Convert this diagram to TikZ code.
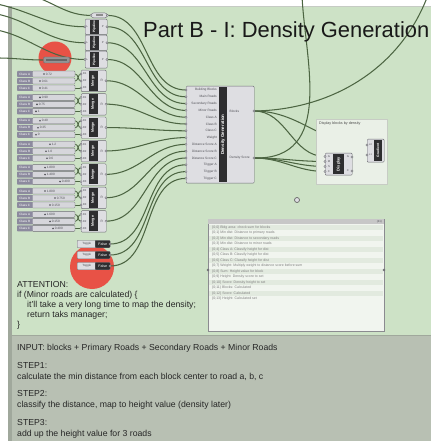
\documentclass[tikz,border=0pt]{standalone}
\usepackage{fontspec}
\setmainfont{Liberation Sans}
\usetikzlibrary{calc}
\pgfdeclarelayer{bg}
\pgfdeclarelayer{wires}
\pgfsetlayers{bg,wires,main}
\definecolor{canvas}{RGB}{205,226,198}
\definecolor{panelgrey}{RGB}{184,192,179}
\definecolor{edgegrey}{RGB}{160,168,156}
\definecolor{wirecol}{RGB}{76,101,66}
\definecolor{compfill}{RGB}{222,222,226}
\definecolor{trackfill}{RGB}{214,214,219}
\definecolor{compline}{RGB}{110,110,116}
\definecolor{stripcol}{RGB}{46,46,48}
\definecolor{slidlab}{RGB}{140,138,158}
\definecolor{redspot}{RGB}{232,82,70}
\definecolor{groupfill}{RGB}{234,240,231}
\definecolor{txtpanel}{RGB}{241,245,239}
\definecolor{txtrow}{RGB}{226,234,223}
\definecolor{labgrey}{RGB}{80,80,86}
\newcommand\tinyfont[1]{\fontsize{#1}{#1}\selectfont}
\tikzset{
 wire/.style={draw=wirecol, line width=1.05pt},
 thinwire/.style={draw=wirecol, line width=0.8pt},
 compbox/.style={draw=compline, fill=compfill, line width=0.4pt, rounded corners=1pt, inner sep=0pt, anchor=north west},
 vlab/.style={rotate=90, text=white, font=\bfseries\tinyfont{3.6}, inner sep=0pt},
 plab/.style={text=labgrey, font=\tinyfont{3.2}, inner sep=0pt},
 grip/.style={circle, fill=compfill, draw=compline, line width=0.3pt, inner sep=0pt, minimum size=2.2pt},
 sltrack/.style={draw=compline, fill=trackfill, line width=0.35pt, rounded corners=1pt, minimum width=43pt, minimum height=6pt, inner sep=0pt},
 sllab/.style={fill=slidlab, rounded corners=0.8pt, minimum width=15.5pt, minimum height=6pt, inner sep=0pt, text=white, font=\tinyfont{3.1}},
 bigtxt/.style={anchor=base west, inner sep=0pt, font=\tinyfont{8.7}, text=black!85},
 paneltxt/.style={anchor=west, inner sep=0pt, font=\tinyfont{3.5}, text=black!50},
}
% slider: name, y, label, marker x, value
\newcommand\gslider[5]{%
 \node[sltrack] (#1) at (53.5,#2) {};
 \node[sllab] at (24.75,#2) {#3};
 \fill[labgrey] (#4,#2) circle (0.9pt);
 \node[plab, anchor=west] at (#4+1.6,#2) {#5};
}
% merge: name, top
\newcommand\gmerge[2]{%
 \node[compbox, minimum width=25pt, minimum height=21.5pt] (#1) at (81,#2) {};
 \fill[stripcol] (88.5,#2+0.8) rectangle (97.5,#2+20.7);
 \node[vlab] at (93,#2+10.75) {Merge};
 \node[plab, font=\tinyfont{2.8}] at (84.7,#2+4) {D1};
 \node[plab, font=\tinyfont{2.8}] at (84.7,#2+11) {D2};
 \node[plab, font=\tinyfont{2.8}] at (84.7,#2+18) {D3};
 \node[plab] at (101.8,#2+10.75) {R};
 \coordinate (#1-i1) at (81,#2+4);
 \coordinate (#1-i2) at (81,#2+11);
 \coordinate (#1-i3) at (81,#2+18);
 \coordinate (#1-o) at (106,#2+10.75);
 \node[grip] at (#1-i1) {};
 \node[grip] at (#1-i2) {};
 \node[grip] at (#1-i3) {};
 \node[grip] at (#1-o) {};
}
% pipeline: name, top, height
\newcommand\gpipe[3]{%
 \node[compbox, minimum width=22pt, minimum height=#3pt] (#1) at (85,#2) {};
 \fill[stripcol] (90,#2+0.8) rectangle (98.5,#2+#3-0.8);
 \node[vlab, font=\bfseries\tinyfont{3.2}] at (94.25,#2+#3/2) {Pipeline};
 \node[plab, font=\tinyfont{2.8}] at (87.5,#2+#3/2) {L};
 \node[plab, font=\tinyfont{2.8}] at (102.7,#2+#3/2) {P};
 \coordinate (#1-i) at (85,#2+#3/2);
 \coordinate (#1-o) at (107,#2+#3/2);
 \node[grip] at (#1-i) {};
 \node[grip] at (#1-o) {};
}
% toggle: name, y, value
\newcommand\gtoggle[3]{%
 \node[compbox, anchor=west, minimum width=19pt, minimum height=7.5pt, font=\tinyfont{3}, text=labgrey] (#1) at (77,#2) {Toggle};
 \node[draw=compline, fill=stripcol, rounded corners=1pt, line width=0.4pt, anchor=west, minimum width=15pt, minimum height=7.5pt, inner sep=0pt, text=white, font=\tinyfont{3.6}] (#1v) at (95,#2) {#3};
 \coordinate (#1-o) at (110,#2);
 \node[grip] at (#1-o) {};
}
\begin{document}
\begin{tikzpicture}[x=1pt,y=-1pt]
\begin{pgfonlayer}{bg}
 \fill[white] (0,0) rectangle (431,443);
 \fill[canvas] (11,6) rectangle (431,335);
 \fill[panelgrey] (12,335.5) rectangle (431,441);
 \draw[edgegrey!60!white, line width=0.6pt] (11,6) -- (431,6);
 \fill[edgegrey] (8,6) rectangle (11.5,441);
 \draw[edgegrey, line width=0.7pt] (11.5,335.5) -- (431,335.5);
 \fill[redspot] (55,58) circle (16.5pt);
 \fill[redspot] (92,267) circle (22pt);
\end{pgfonlayer}
\useasboundingbox (0,0) rectangle (431,443);

% title
\node[anchor=base west, inner sep=0pt, font=\fontsize{21.9}{25}\selectfont, text=black!90] (title) at (143,38) {Part B - I: Density Generation};

% top inputs
\node[compbox, minimum width=16pt, minimum height=5pt, rounded corners=2.5pt] (pill) at (91,12.7) {};
\fill[black!45] (95.5,13.9) rectangle (102.5,16.5);
\node[grip] at (pill.west) {};
\node[grip] at (pill.east) {};
\gpipe{p1}{19}{15.5}
\gpipe{p2}{35}{15.5}
\gpipe{p3}{51}{17}
\node[draw=compline, fill=black!42, line width=0.4pt, rounded corners=1pt, minimum width=26pt, minimum height=6pt, inner sep=0pt] (bar) at (56.5,60) {};
\fill[black!60] (46,58.6) rectangle (67,61.4);

% sliders and merges
\foreach \g/\xa/\xb/\xc/\va/\vb/\vc in {
 0/44/40/40/0.72/0.61/0.41,
 1/40/37/36/0.90/0.75/1,
 2/40/38/36/0.40/0.35/0,
 3/50/46/47/1.2/1.0/0.6,
 4/45/45/60/1.800/1.400/0.400,
 5/45/55/50/1.800/0.750/0.150,
 6/45/50/53/1.600/0.150/0.400}{
 \pgfmathsetmacro\T{70+23.4*\g}
 \gmerge{m\g}{\T}
 \gslider{sa\g}{\T+4}{Class A}{\xa}{\va}
 \gslider{sb\g}{\T+11}{Class B}{\xb}{\vb}
 \gslider{sc\g}{\T+18}{Class C}{\xc}{\vc}
 \begin{pgfonlayer}{wires}
  \draw[thinwire] (sa\g.east) to[out=0,in=180] (m\g-i2);
  \draw[thinwire] (sb\g.east) to[out=0,in=180] (m\g-i1);
  \draw[thinwire] (sc\g.east) to[out=0,in=180] (m\g-i3);
 \end{pgfonlayer}
}

% toggles
\gtoggle{t1}{244}{False}
\gtoggle{t2}{255}{False}
\gtoggle{t3}{266}{False}

% Density Generation component
\node[compbox, minimum width=68pt, minimum height=97pt] (dg) at (186,86) {};
\fill[stripcol] (219,86.6) rectangle (227,182.4);
\node[vlab, font=\bfseries\tinyfont{4.4}] at (223,134.5) {Density Generation};
\foreach \lab [count=\i from 0] in {Building Blocks, Main Roads, Secondary Roads, Minor Roads, Class A, Class B, Class C, Weight, Distance Score A, Distance Score B, Distance Score C, Trigger A, Trigger B, Trigger C}{
 \coordinate (dgi\i) at (186,90+6.8*\i);
 \node[plab, anchor=east] at (217,90+6.8*\i) {\lab};
 \node[grip] at (dgi\i) {};
}
\coordinate (dgoB) at (254,111);
\coordinate (dgoD) at (254,158);
\node[plab, anchor=west] at (229.5,111) {Blocks};
\node[plab, anchor=west] at (229.5,158) {Density Score};
\node[grip] at (dgoB) {};
\node[grip] at (dgoD) {};

% display group
\node[fill=groupfill, draw=groupfill!85!black, line width=0.3pt, minimum width=71pt, minimum height=65pt, inner sep=0pt, anchor=north west] (grp) at (316,119) {};
\node[anchor=west, inner sep=0pt, font=\tinyfont{3.7}, text=black!70] (grplab) at (319,124) {Display blocks by density};
\node[compbox, minimum width=27pt, minimum height=22pt] (disp) at (325,153) {};
\fill[stripcol] (333,153.6) rectangle (344,174.4);
\node[vlab, font=\bfseries\tinyfont{4}] at (338.5,164) {Display};
\foreach \lab [count=\i] in {G,M,S,C}{
 \coordinate (disp-i\i) at (325,151.5+5*\i);
 \node[plab, font=\tinyfont{2.8}] at (329,151.5+5*\i) {\lab};
 \node[grip] at (disp-i\i) {};
}
\coordinate (disp-o1) at (352,157);
\coordinate (disp-o2) at (352,171);
\node[plab, font=\tinyfont{2.8}] at (348,157) {G};
\node[plab, font=\tinyfont{2.8}] at (348,171) {C};
\node[grip] at (disp-o1) {};
\node[grip] at (disp-o2) {};
\node[compbox, minimum width=17pt, minimum height=23pt] (grad) at (367,139) {};
\fill[stripcol] (374,139.6) rectangle (382,161.4);
\node[vlab, font=\bfseries\tinyfont{3.4}] at (378,150.5) {Gradient};
\coordinate (grad-i1) at (367,145);
\coordinate (grad-i2) at (367,155);
\node[plab, font=\tinyfont{2.6}] at (370.5,145) {L0};
\node[plab, font=\tinyfont{2.6}] at (370.5,155) {L1};
\node[grip] at (grad-i1) {};
\node[grip] at (grad-i2) {};

% relay
\node[circle, draw=black!60, fill=compfill, line width=0.7pt, minimum size=5pt, inner sep=0pt] (relay) at (297,200) {};

% text panel
\node[fill=txtpanel, draw=compline!80, line width=0.4pt, minimum width=176pt, minimum height=112pt, anchor=north west, inner sep=0pt] (panel) at (208,219) {};
\fill[black!22] (208.3,219.3) rectangle (383.7,223.5);
\node[plab, anchor=east, font=\tinyfont{2.8}] at (382,221.4) {(41)};
\foreach \i in {0,2,...,12}{
 \fill[txtrow] (208.6,224.5+5.5*\i) rectangle (383.4,230+5.5*\i);
}
\foreach \t [count=\i from 0] in {
 \{0;0\} Bldg area: check sum for blocks,
 \{0;1\} Min dist: Distance to primary roads,
 \{0;2\} Min dist: Distance to secondary roads,
 \{0;3\} Min dist: Distance to minor roads,
 \{0;4\} Class A: Classify height for dist,
 \{0;5\} Class B: Classify height for dist,
 \{0;6\} Class C: Classify height for dist,
 \{0;7\} Weight: Multiply weight to distance score before sum,
 \{0;8\} Sum: Height value for block,
 \{0;9\} Height: Density score to set,
 \{0;10\} Score: Density height to set,
 \{0;11\} Blocks: Calculated,
 \{0;12\} Score: Calculated,
 \{0;13\} Height: Calculated set}{
 \node[paneltxt] at (212,227.25+5.5*\i) {\t};
}
\coordinate (panel-l) at (208,270);
\coordinate (panel-r) at (384,270);
\node[grip, fill=black!55] at (panel-l) {};
\node[grip, fill=black!55] at (panel-r) {};

% attention text
\node[bigtxt] (att1) at (17,287) {ATTENTION:};
\node[bigtxt] (att2) at (17,297) {if (Minor roads are calculated) \{};
\node[bigtxt] (att3) at (27,307) {it'll take a very long time to map the density;};
\node[bigtxt] (att4) at (27,317) {return taks manager;};
\node[bigtxt] (att5) at (17,327) {\}};

% bottom notes
\node[bigtxt] (n1) at (17,350.5) {INPUT: blocks + Primary Roads + Secondary Roads + Minor Roads};
\node[bigtxt] (n2) at (17,368) {STEP1:};
\node[bigtxt] (n3) at (17,379) {calculate the min distance from each block center to road a, b, c};
\node[bigtxt] (n4) at (17,396.5) {STEP2:};
\node[bigtxt] (n5) at (17,407.5) {classify the distance, map to height value (density later)};
\node[bigtxt] (n6) at (17,425) {STEP3:};
\node[bigtxt] (n7) at (17,436) {add up the height value for 3 roads};

% wires
\coordinate (srcA) at (36,-3);
\coordinate (srcB) at (-3,4);
\coordinate (srcC) at (-3,14);
\coordinate (srcD) at (-3,30);
\coordinate (srcE) at (-3,58);
\coordinate (topR) at (428,-5);
\coordinate (topM) at (302,-4);
\begin{pgfonlayer}{wires}
 \draw[wire] (srcA) to[out=-20,in=180] (pill.west);
 \draw[wire] (srcB) to[out=-12,in=180] (p1-i);
 \draw[wire] (srcC) to[out=-12,in=180] (p2-i);
 \draw[wire] (srcD) to[out=-12,in=180] (p3-i);
 \draw[wire] (srcE) to[out=0,in=180] (bar.west);
 \draw[wire] (pill.east) to[out=0,in=180] (dgi0);
 \draw[wire] (p1-o) to[out=0,in=180] (dgi1);
 \draw[wire] (p2-o) to[out=0,in=180] (dgi2);
 \draw[wire] (p3-o) to[out=0,in=180] (dgi3);
 \foreach \a/\b in {m0-o/dgi4, m1-o/dgi5, m2-o/dgi6, m3-o/dgi7, m4-o/dgi8, m5-o/dgi9, m6-o/dgi10, t1-o/dgi11, t2-o/dgi12, t3-o/dgi13}{
  \draw[wire] (\a) to[out=0,in=180] (\b);
 }
 \draw[wire] (dgoB) .. controls (330,110) and (400,70) .. (topR);
 \draw[wire] (dgoD) .. controls (335,160) and (305,60) .. (topM);
 \draw[wire] (dgoB) to[out=0,in=180] (disp-i1);
 \draw[wire] (dgoB) to[out=0,in=180] (grad-i1);
 \draw[wire] (dgoD) to[out=0,in=180] (disp-i2);
 \draw[wire] (dgoD) to[out=0,in=180] (disp-i3);
 \draw[wire] (dgoD) to[out=0,in=180] (disp-i4);
 \draw[wire] (disp-o2) to[out=0,in=180] (grad-i2);
\end{pgfonlayer}
\end{tikzpicture}
\end{document}
